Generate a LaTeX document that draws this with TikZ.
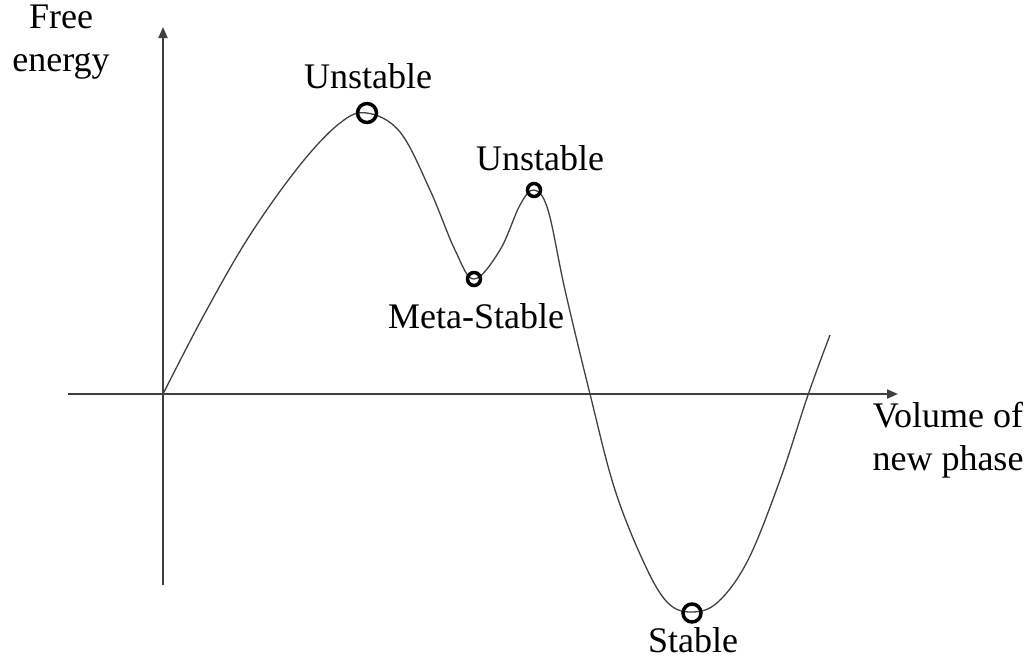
\documentclass[tikz,border=0pt]{standalone}
\usepackage{fontspec}
\setmainfont{Liberation Serif}
\usetikzlibrary{arrows.meta}
\begin{document}
\begin{tikzpicture}[x=1pt,y=-1pt,
  lbl/.style={font=\fontsize{36}{43}\selectfont, inner sep=0pt},
  axis/.style={line width=2pt, draw=black!75, -{Triangle[length=11pt,width=9pt]}},
  curve/.style={line width=1.3pt, draw=black!75},
  dot/.style={circle, draw=black, line width=3.5pt, inner sep=0pt}]
\useasboundingbox (0,0) rectangle (1031,659);
\coordinate (O) at (163,394);
\coordinate (ybot) at (163,585);
\coordinate (ytop) at (163,27);
\coordinate (xleft) at (68,394);
\coordinate (xright) at (898,394);
\draw[axis] (ybot) -- (ytop);
\draw[axis] (xleft) -- (xright);
\draw[curve] plot[smooth, tension=0.6] coordinates {(163,394) (205,313) (250,235) (300,165) (340,123) (367,113) (400,132) (430,190) (455,250) (474,279) (500,250) (520,205) (534,190) (548,210) (565,290) (590,394) (615,490) (645,565) (668,603) (692,612) (718,602) (748,560) (780,480) (808,395) (830,335)};
\node[dot, minimum size=19pt] (u1) at (367,113) {};
\node[dot, minimum size=13pt] (u2) at (534,190) {};
\node[dot, minimum size=13pt] (ms) at (474,279) {};
\node[dot, minimum size=18pt] (st) at (692,613) {};
\node[lbl] (lu1) at (368,76) {Unstable};
\node[lbl] (lu2) at (540,158) {Unstable};
\node[lbl] (lms) at (476,316) {Meta-Stable};
\node[lbl] (lst) at (693,640) {Stable};
\node[lbl, align=center] (ly) at (61,42) {Free\\energy};
\node[lbl, align=center] (lx) at (948,440) {Volume of\\new phase};
\end{tikzpicture}
\end{document}
